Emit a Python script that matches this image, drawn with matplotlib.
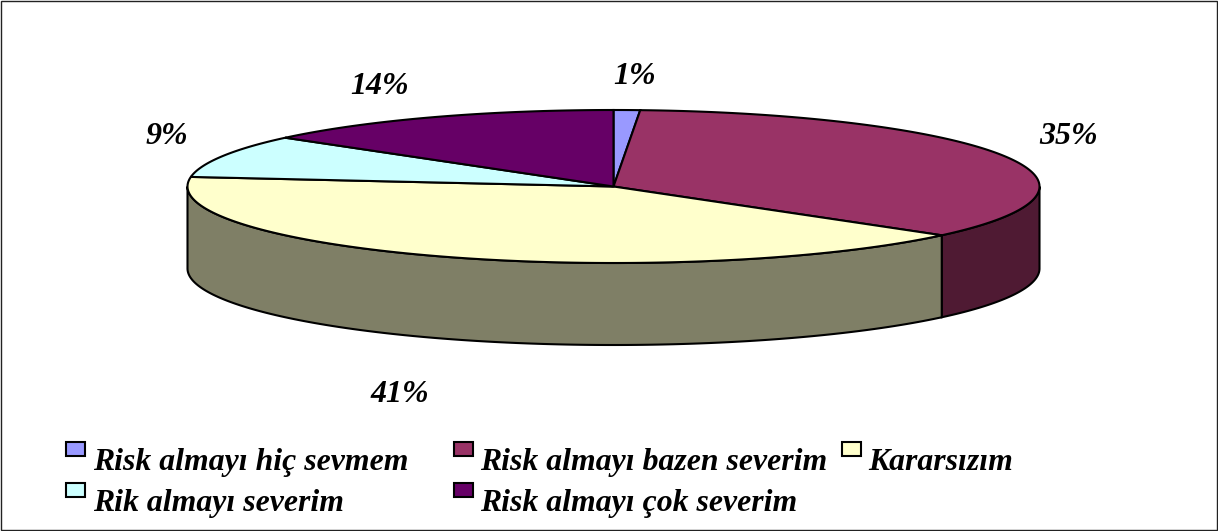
import matplotlib
matplotlib.use("Agg")
import matplotlib.pyplot as plt
from matplotlib.patches import Polygon, Rectangle
import numpy as np

WIDTH, HEIGHT = 1218, 531

labels = ["Risk almayı hiç sevmem", "Risk almayı bazen severim", "Kararsızım",
          "Rik almayı severim", "Risk almayı çok severim"]
values = [1, 35, 41, 9, 14]
top_colors = ["#9999FF", "#993366", "#FFFFCC", "#CCFFFF", "#660066"]
side_colors = ["#7F7F66", "#4F1A33", "#7F7F66", "#66807F", "#330033"]
pct_labels = ["1%", "35%", "41%", "9%", "14%"]
pct_pos = [(635, 76), (1069, 136), (400, 394), (167, 136), (380, 86)]
legend_pos = [(66, 442), (454, 442), (842, 442), (66, 483), (454, 483)]
legend_text_x = [93, 480, 868, 93, 480]
legend_text_y = [459, 459, 459, 500, 500]

cx, cy = 613.5, 186.5
rx, ry = 426, 76.5
depth = 82

plt.rcParams["font.family"] = ["Liberation Serif", "DejaVu Serif"]
fig = plt.figure(figsize=(WIDTH / 100, HEIGHT / 100), dpi=100)
ax = fig.add_axes([0, 0, 1, 1])
ax.set_xlim(0, WIDTH)
ax.set_ylim(HEIGHT, 0)
ax.axis("off")

# outer frame
ax.add_patch(Rectangle((0.5, 0.5), WIDTH - 1.5, HEIGHT - 2, fc="white", ec="#222222", lw=1))


def rim(t):
    # angle in radians, clockwise from 12 o'clock
    return cx + rx * np.sin(t), cy - ry * np.cos(t)


edges = np.radians(np.cumsum([0] + values) / sum(values) * 360)

# side wall, only the front half of the ellipse shows
for i in range(len(values)):
    lo, hi = max(edges[i], np.pi / 2), min(edges[i + 1], 3 * np.pi / 2)
    if hi <= lo:
        continue
    t = np.linspace(lo, hi, 200)
    x, y = rim(t)
    pts = np.r_[np.c_[x, y], np.c_[x[::-1], y[::-1] + depth]]
    ax.add_patch(Polygon(pts, closed=True, fc=side_colors[i], ec="black", lw=1.5, zorder=2))

# top face
for i in range(len(values)):
    t = np.linspace(edges[i], edges[i + 1], 200)
    x, y = rim(t)
    pts = np.r_[[[cx, cy]], np.c_[x, y]]
    ax.add_patch(Polygon(pts, closed=True, fc=top_colors[i], ec="black", lw=1.5, zorder=3))

for txt, (x, y) in zip(pct_labels, pct_pos):
    ax.text(x, y, txt, ha="center", va="center", fontsize=23, style="italic", weight="bold")

for i, txt in enumerate(labels):
    ax.add_patch(Rectangle(legend_pos[i], 19, 14, fc=top_colors[i], ec="black", lw=1.5))
    ax.text(legend_text_x[i], legend_text_y[i], txt, ha="left", va="center_baseline",
            fontsize=22.9, style="italic", weight="bold")

fig.savefig("out.png", dpi=100)
